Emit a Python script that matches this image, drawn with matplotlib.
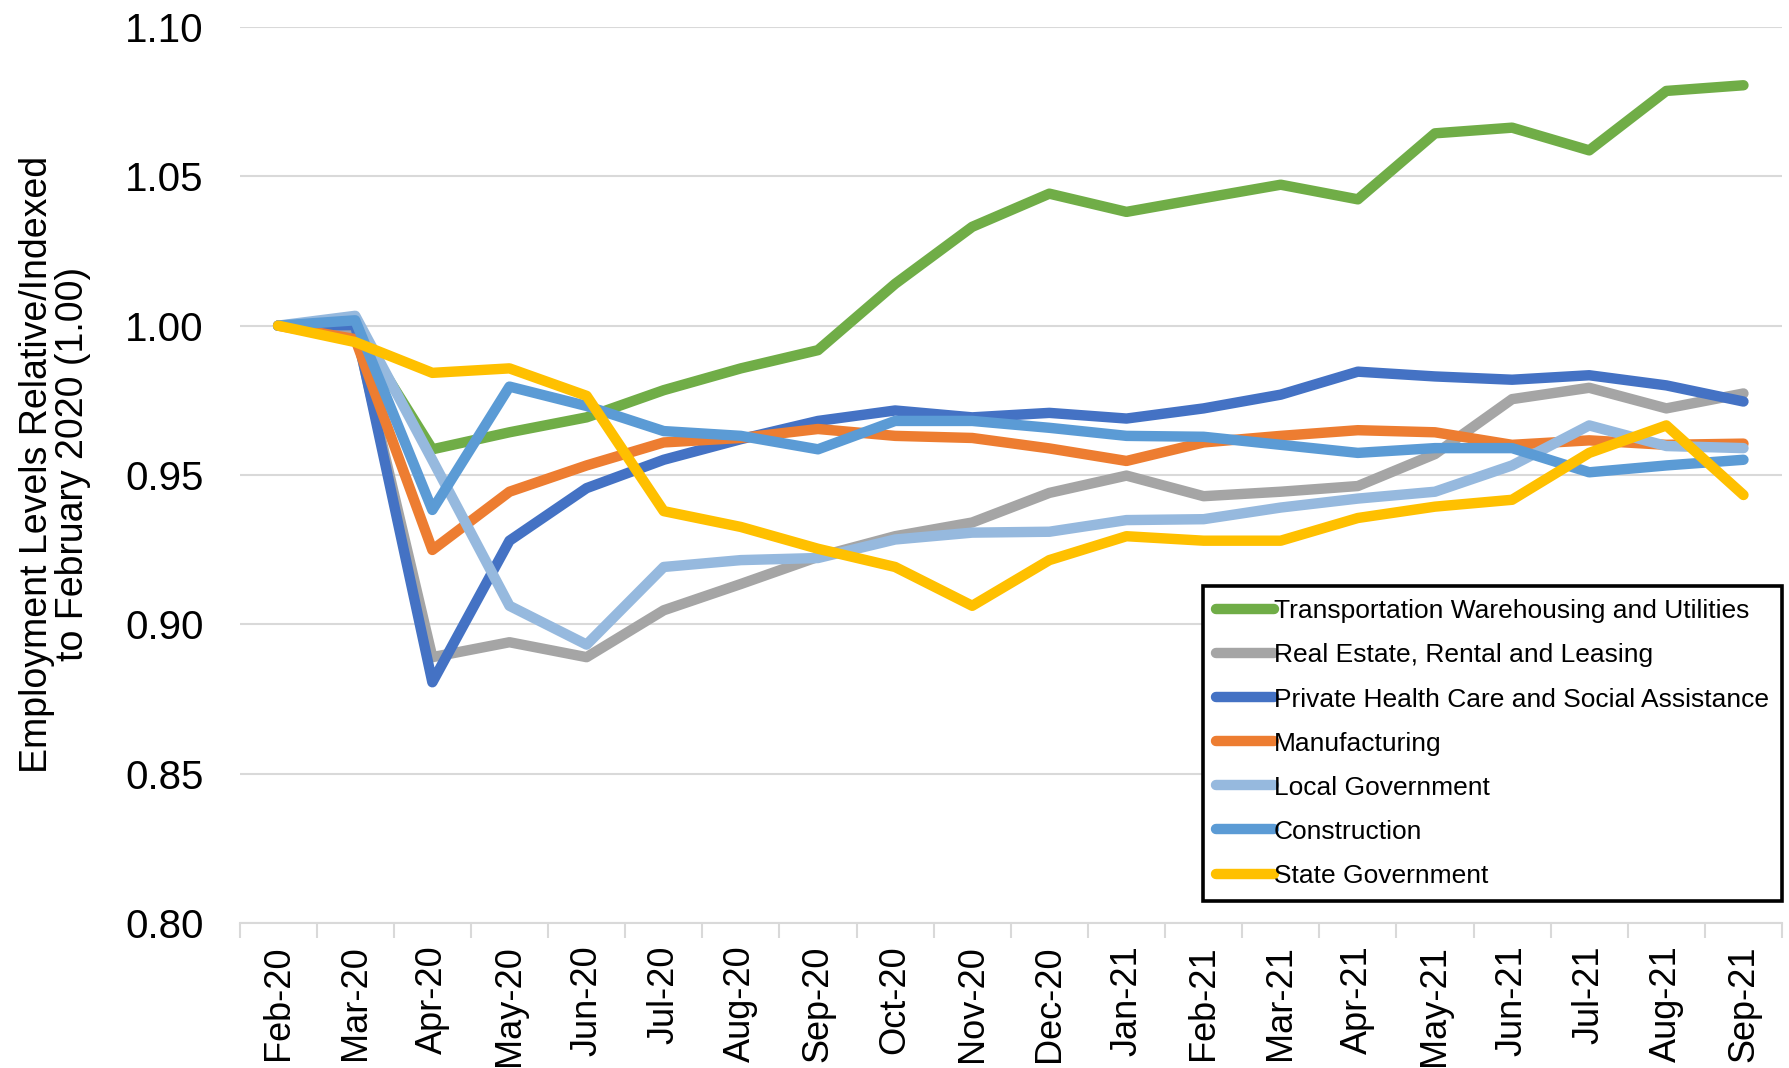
import matplotlib
matplotlib.use("Agg")
import matplotlib.pyplot as plt
from matplotlib.ticker import FixedLocator

plt.rcParams['font.family'] = ['Liberation Sans', 'DejaVu Sans']

months = ["Feb-20", "Mar-20", "Apr-20", "May-20", "Jun-20", "Jul-20", "Aug-20", "Sep-20",
          "Oct-20", "Nov-20", "Dec-20", "Jan-21", "Feb-21", "Mar-21", "Apr-21", "May-21",
          "Jun-21", "Jul-21", "Aug-21", "Sep-21"]

transportation = [1.000, 1.000, 0.9586, 0.9643, 0.9693, 0.9784, 0.9857, 0.9918, 1.014, 1.0331,
                  1.0442, 1.0381, 1.0427, 1.0472, 1.0423, 1.0644, 1.0663, 1.0587, 1.0786, 1.0805]
real_estate = [1.000, 0.9989, 0.889, 0.894, 0.889, 0.9047, 0.9135, 0.9226, 0.9295, 0.9341,
               0.944, 0.9498, 0.9429, 0.9444, 0.9463, 0.957, 0.9754, 0.9792, 0.9723, 0.9773]
health = [1.000, 1.0002, 0.8806, 0.928, 0.9456, 0.9551, 0.962, 0.9681, 0.9716, 0.9693,
          0.9708, 0.9689, 0.9723, 0.9769, 0.9846, 0.983, 0.9819, 0.9834, 0.980, 0.9746]
manufacturing = [1.000, 0.9955, 0.9249, 0.9444, 0.9532, 0.9609, 0.9624, 0.9654, 0.9631, 0.9624,
                 0.9589, 0.9547, 0.9609, 0.9631, 0.965, 0.9643, 0.9601, 0.9616, 0.9601, 0.9605]
local_gov = [1.000, 1.0033, 0.955, 0.9062, 0.8932, 0.9192, 0.9215, 0.9222, 0.9284, 0.9307,
             0.931, 0.9349, 0.9352, 0.9391, 0.9421, 0.9444, 0.9532, 0.9666, 0.9597, 0.959]
construction = [1.000, 1.0018, 0.9383, 0.9796, 0.9731, 0.9647, 0.9631, 0.9586, 0.9681, 0.9681,
                0.9658, 0.9631, 0.9628, 0.9601, 0.9574, 0.959, 0.959, 0.9509, 0.9532, 0.9551]
state_gov = [1.000, 0.9945, 0.9842, 0.9857, 0.9765, 0.9379, 0.9326, 0.9253, 0.9192, 0.9062,
             0.9215, 0.9295, 0.928, 0.928, 0.9356, 0.9394, 0.9417, 0.9574, 0.9666, 0.9433]

series_names = ["Transportation Warehousing and Utilities", "Real Estate, Rental and Leasing",
                "Private Health Care and Social Assistance", "Manufacturing",
                "Local Government", "Construction", "State Government"]
series_values = [transportation, real_estate, health, manufacturing, local_gov, construction, state_gov]
colors = ["#70AD47", "#A5A5A5", "#4472C4", "#ED7D31", "#96B9DE", "#5B9BD5", "#FFC000"]

fig = plt.figure(figsize=(17.89, 10.68), dpi=100)
ax = fig.add_axes([0.1339, 0.1358, 0.8622, 0.8389])

x = list(range(len(months)))
for name, vals, c in zip(series_names, series_values, colors):
    ax.plot(x, vals, color=c, lw=7.5, label=name, solid_capstyle='round', solid_joinstyle='round')

ax.set_xlim(-0.5, len(months) - 0.5)
ax.set_ylim(0.80, 1.10)
ax.set_yticks([0.80, 0.85, 0.90, 0.95, 1.00, 1.05, 1.10])
ax.set_yticklabels(["0.80", "0.85", "0.90", "0.95", "1.00", "1.05", "1.10"])
ax.yaxis.grid(True, color="#D9D9D9", lw=1.5)
ax.set_axisbelow(True)

ax.set_xticks(x)
ax.set_xticklabels(months, rotation=90)
ax.xaxis.set_minor_locator(FixedLocator([i - 0.5 for i in range(len(months) + 1)]))
ax.tick_params(axis='x', which='major', length=0, pad=16, labelsize=26)
ax.tick_params(axis='x', which='minor', length=11, width=1.5, color="#D9D9D9")
ax.tick_params(axis='y', length=0, pad=26, labelsize=29)

for s in ['left', 'top', 'right']:
    ax.spines[s].set_visible(False)
ax.spines['bottom'].set_color("#D9D9D9")
ax.spines['bottom'].set_linewidth(1.5)

ax.set_ylabel("Employment Levels Relative/Indexed\nto February 2020 (1.00)", fontsize=27,
              linespacing=1.0)
ax.yaxis.set_label_coords(-0.0963, 0.512)

leg = fig.legend(loc='lower right', bbox_to_anchor=(0.9961, 0.1564), fontsize=19,
                 handlelength=2.2, handletextpad=0.0, labelspacing=0.76, borderpad=0.5,
                 borderaxespad=0, fancybox=False, framealpha=1)
leg.get_frame().set_edgecolor("black")
leg.get_frame().set_linewidth(2.6)
for h in leg.get_lines():
    h.set_linewidth(7.5)
    h.set_solid_capstyle('round')

fig.savefig("out.png", dpi=100)
